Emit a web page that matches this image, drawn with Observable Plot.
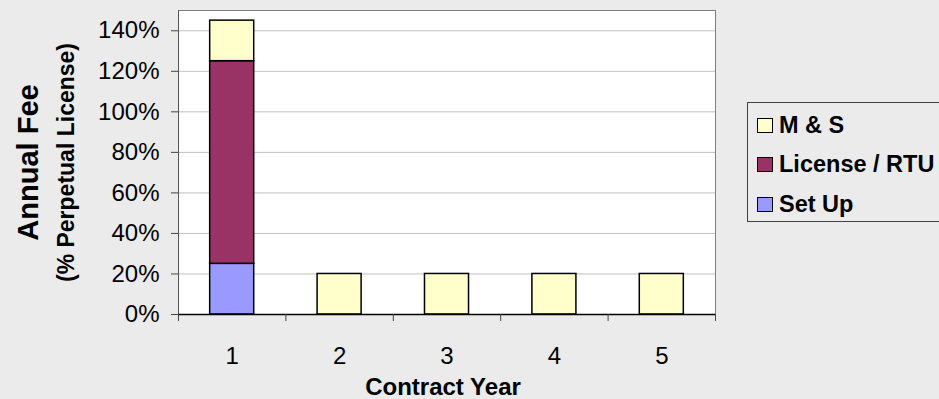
<!DOCTYPE html>
<html>
<head>
<meta charset="utf-8">
<script src="https://cdn.jsdelivr.net/npm/d3@7"></script>
<script src="https://cdn.jsdelivr.net/npm/@observablehq/plot@0.6"></script>
<style>
  html, body { margin: 0; padding: 0; background: #ebebeb; }
  #wrap { position: relative; width: 939px; height: 399px; overflow: hidden;
          font-family: "Liberation Sans", Arial, sans-serif; }
  #chart svg { position: absolute; left: 0; top: 0; }
  #legend { position: absolute; left: 747px; top: 102px; width: 200px; height: 120px;
            border: 1px solid #404040; box-sizing: border-box; }
  .item { position: absolute; left: 9px; height: 20px; display: flex; align-items: center;
          font-weight: bold; font-size: 23.5px; color: #000; white-space: nowrap; }
  .sw { width: 14px; height: 13px; border: 1.5px solid #000; margin-right: 6px; flex: none; }
</style>
</head>
<body>
<div id="wrap">
  <div id="chart"></div>
  <div id="legend"></div>
</div>
<script>
// Contract years and the fee components per year (percent of perpetual license)
const years = [1, 2, 3, 4, 5];
const seriesNames = ["Set Up", "License / RTU", "M & S"];
const setUp = [25, 0, 0, 0, 0];
const licenseRtu = [100, 0, 0, 0, 0];
const maintenance = [20, 20, 20, 20, 20];
const seriesColors = ["#9999FF", "#993366", "#FFFFCC"];
const yTicks = [0, 20, 40, 60, 80, 100, 120, 140];
const legendOrder = ["M & S", "License / RTU", "Set Up"];

const seriesValues = [setUp, licenseRtu, maintenance];
const rows = [];
years.forEach((year, i) => {
  seriesNames.forEach((name, s) => {
    const value = seriesValues[s][i];
    if (value > 0) rows.push({year, series: name, value});
  });
});

const halfBar = 0.205;
const font = "Liberation Sans, Arial, sans-serif";
const boundaries = years.map(y => y - 0.5).concat([years[years.length - 1] + 0.5]);

const chart = Plot.plot({
  width: 939,
  height: 399,
  marginLeft: 178,
  marginRight: 224,
  marginTop: 10,
  marginBottom: 85,
  style: {background: "transparent", fontFamily: font, color: "#000"},
  x: {domain: [0.5, 5.5], axis: null},
  y: {domain: [0, 150], axis: null},
  color: {domain: seriesNames, range: seriesColors},
  marks: [
    Plot.frame({fill: "white", stroke: null}),
    Plot.ruleY(yTicks.filter(t => t > 0), {stroke: "#c0c0c0", strokeWidth: 1}),
    Plot.rectY(rows, Plot.stackY({
      x1: d => d.year - halfBar,
      x2: d => d.year + halfBar,
      y: "value",
      fill: "series",
      stroke: "#000",
      strokeWidth: 1.5
    })),
    Plot.frame({stroke: "#7f7f7f", strokeWidth: 1}),
    Plot.ruleX([0.5], {stroke: "#555", strokeWidth: 1}),
    Plot.ruleY([0], {stroke: "#000", strokeWidth: 1.5}),
    Plot.axisY({ticks: yTicks, tickFormat: d => d + "%", tickSize: 7, tickPadding: 12,
                fontSize: 24, label: null, stroke: "#444"}),
    Plot.axisX({ticks: boundaries, tickFormat: () => "", tickSize: 7, label: null, stroke: "#444"}),
    Plot.axisX({ticks: years, tickFormat: d => String(d), tickSize: 0, tickPadding: 32,
                fontSize: 24, label: null}),
    Plot.text(["Contract Year"], {frameAnchor: "bottom", lineAnchor: "bottom", dy: 80,
                fontSize: 24, fontWeight: "bold", dx: -4}),
    Plot.text(["Annual Fee"], {frameAnchor: "left", textAnchor: "middle", rotate: -90, dx: -150,
                fontSize: 29, fontWeight: "bold"}),
    Plot.text(["(% Perpetual License)"], {frameAnchor: "left", textAnchor: "middle", rotate: -90,
                dx: -112, fontSize: 23, fontWeight: "bold"})
  ]
});
document.getElementById("chart").appendChild(chart);

// Legend box to the right of the plot
const legend = d3.select("#legend");
const rowTops = [12, 51, 91];
legendOrder.forEach((name, i) => {
  const item = legend.append("div").attr("class", "item").style("top", rowTops[i] + "px");
  item.append("div").attr("class", "sw")
    .style("background", seriesColors[seriesNames.indexOf(name)]);
  item.append("span").text(name);
});
</script>
</body>
</html>
